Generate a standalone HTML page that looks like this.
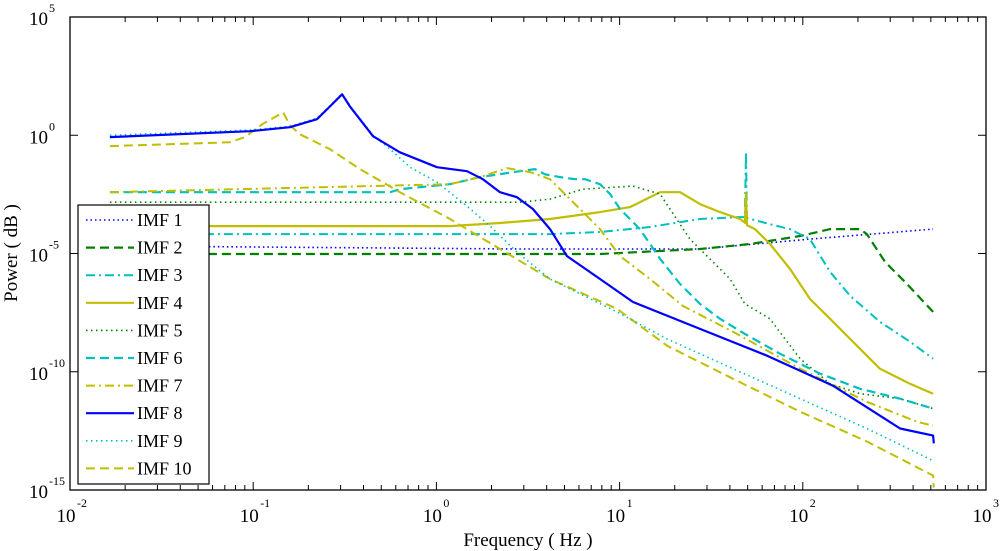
<!DOCTYPE html>
<html><head><meta charset="utf-8"><style>
html,body{margin:0;padding:0;background:#fff;}
svg{display:block;font-family:"Liberation Serif",serif;}
</style></head><body>
<svg id="chart" width="1000" height="551" viewBox="0 0 1000 551" xmlns="http://www.w3.org/2000/svg">
<rect x="0" y="0" width="1000" height="551" fill="#fff"/>
<g id="series"></g>
<g id="axes"></g>
<g id="legend"></g>
</svg>
<script>
// data: log10(frequency Hz) and log10(power)
const imf1LogF=[-1.782,0.456,0.893,1.439,2.039,2.711];
const imf1LogP=[-4.68,-4.81,-4.81,-4.81,-4.39,-3.97];
const imf2LogF=[-1.782,0.893,1.439,1.712,1.985,2.149,2.312,2.350,2.449,2.558,2.711];
const imf2LogP=[-5.02,-5.02,-4.81,-4.60,-4.26,-3.97,-3.97,-4.18,-5.36,-6.20,-7.47];
const imf3LogF=[-1.782,0.620,0.893,1.166,1.439,1.657,1.684,1.690,1.695,1.821,1.930,2.039,2.149,2.258,2.421,2.585,2.711];
const imf3LogP=[-4.18,-4.18,-4.09,-3.88,-3.54,-3.46,-3.46,-0.70,-3.50,-3.76,-3.97,-4.39,-5.78,-6.79,-7.89,-8.73,-9.45];
const imf4LogF=[-1.782,0.074,0.347,0.620,0.893,1.057,1.221,1.330,1.439,1.548,1.657,1.684,1.690,1.695,1.739,1.821,1.930,2.039,2.149,2.258,2.421,2.585,2.711];
const imf4LogP=[-3.84,-3.84,-3.71,-3.54,-3.25,-3.04,-2.41,-2.41,-2.91,-3.25,-3.54,-3.70,-2.45,-3.80,-3.97,-4.60,-5.65,-6.92,-7.76,-8.61,-9.87,-10.51,-10.93];
const imf5LogF=[-1.782,0.456,0.620,0.800,1.073,1.221,1.275,1.384,1.493,1.603,1.684,1.821,1.903,1.985,2.149,2.312,2.531,2.711];
const imf5LogP=[-2.83,-2.83,-2.70,-2.28,-2.15,-2.49,-3.12,-4.39,-5.23,-6.08,-7.13,-7.76,-8.61,-9.45,-10.51,-10.93,-11.14,-11.56];
const imf6LogF=[-1.782,-0.253,-0.199,0.074,0.238,0.456,0.538,0.593,0.675,0.757,0.811,0.893,0.948,1.002,1.111,1.221,1.330,1.439,1.548,1.684,1.876,2.094,2.312,2.531,2.711];
const imf6LogP=[-2.41,-2.41,-2.28,-2.07,-1.77,-1.52,-1.43,-1.65,-1.77,-1.86,-1.86,-2.07,-2.49,-3.12,-3.97,-5.23,-6.29,-7.13,-7.76,-8.40,-9.24,-10.08,-10.72,-11.14,-11.56];
const imf7LogF=[-1.782,0.074,0.238,0.385,0.511,0.620,0.767,0.893,1.002,1.166,1.346,1.619,1.985,2.350,2.623,2.711];
const imf7LogP=[-2.41,-2.07,-1.77,-1.39,-1.56,-1.86,-2.99,-3.97,-5.11,-6.08,-7.22,-8.31,-9.87,-11.27,-12.11,-12.28];
const imf8LogF=[-1.782,-1.017,-0.799,-0.652,-0.581,-0.515,-0.472,-0.346,-0.199,0.003,0.167,0.254,0.347,0.440,0.527,0.620,0.713,0.893,1.073,1.439,1.805,2.165,2.531,2.711,2.715];
const imf8LogP=[-0.08,0.17,0.34,0.68,1.22,1.73,1.22,-0.04,-0.72,-1.35,-1.52,-1.86,-2.41,-2.62,-3.12,-3.97,-5.11,-6.08,-7.05,-8.19,-9.32,-10.59,-12.40,-12.70,-13.03];
const imf9LogF=[-1.782,-1.017,-0.799,-0.652,-0.581,-0.515,-0.472,-0.346,-0.253,-0.144,0.003,0.167,0.293,0.440,0.620,0.986,1.259,1.619,1.985,2.350,2.711];
const imf9LogP=[0.00,0.22,0.38,0.72,1.25,1.76,1.25,0.00,-0.59,-1.35,-1.98,-3.00,-3.84,-4.94,-6.08,-7.47,-8.61,-9.87,-11.14,-12.40,-13.76];
const imf10LogF=[-1.782,-1.127,-1.045,-0.952,-0.854,-0.837,-0.799,-0.745,-0.581,-0.417,-0.199,0.074,0.347,0.620,0.986,1.259,1.619,1.985,2.350,2.711,2.715];
const imf10LogP=[-0.46,-0.30,-0.08,0.46,0.89,0.97,0.42,0.04,-0.59,-1.43,-2.41,-3.54,-4.81,-6.08,-7.34,-8.90,-10.30,-11.69,-12.95,-14.39,-14.90];
const legendLabels=["IMF 1","IMF 2","IMF 3","IMF 4","IMF 5","IMF 6","IMF 7","IMF 8","IMF 9","IMF 10"];
const xTickExps=[-2,-1,0,1,2,3];
const yTickExps=[-15,-10,-5,0,5];

const NS="http://www.w3.org/2000/svg";
const L=70,R=986,T=17,B=490;
const X0=-2,X1=3,Y0=-15,Y1=5;
function sx(lf){return L+(lf-X0)/(X1-X0)*(R-L);}
function sy(lp){return B-(lp-Y0)/(Y1-Y0)*(B-T);}
function mk(tag,attrs,parent){const e=document.createElementNS(NS,tag);for(const k in attrs)e.setAttribute(k,attrs[k]);parent.appendChild(e);return e;}

const BLUE="#0000ff",GREEN="#008000",CYAN="#00bfbf",YEL="#bfbf00";
const styles=[
 {c:BLUE,w:1.6,d:"1.5,3"},
 {c:GREEN,w:2.2,d:"9,5"},
 {c:CYAN,w:2,d:"9,4,2,4"},
 {c:YEL,w:2.2,d:""},
 {c:GREEN,w:1.6,d:"1.5,3.5"},
 {c:CYAN,w:2.2,d:"9,5"},
 {c:YEL,w:2,d:"9,4,2,4"},
 {c:BLUE,w:2.2,d:""},
 {c:CYAN,w:1.6,d:"1.5,3.5"},
 {c:YEL,w:2,d:"9,5"}
];
const allF=[imf1LogF,imf2LogF,imf3LogF,imf4LogF,imf5LogF,imf6LogF,imf7LogF,imf8LogF,imf9LogF,imf10LogF];
const allP=[imf1LogP,imf2LogP,imf3LogP,imf4LogP,imf5LogP,imf6LogP,imf7LogP,imf8LogP,imf9LogP,imf10LogP];
const sg=document.getElementById("series");
const drawOrder=[0,1,2,3,4,5,6,9,8,7];
drawOrder.forEach(i=>{
  const f=allF[i],p=allP[i];
  let d="";
  for(let k=0;k<f.length;k++)d+=(k?"L":"M")+sx(f[k]).toFixed(1)+","+sy(p[k]).toFixed(1);
  const a={d:d,fill:"none",stroke:styles[i].c,"stroke-width":styles[i].w,"stroke-linejoin":"round"};
  if(styles[i].d)a["stroke-dasharray"]=styles[i].d;
  const el=mk("path",a,sg);
  
  
});

// axes
const ag=document.getElementById("axes");
const frame=mk("rect",{x:L,y:T,width:R-L,height:B-T,fill:"none",stroke:"#000","stroke-width":1.3},ag);


for(let e=X0;e<X1;e++){
  for(let m=1;m<10;m++){
    const x=sx(e+Math.log10(m));const len=m===1?8:5;
    mk("line",{x1:x,y1:B,x2:x,y2:B-len,stroke:"#000","stroke-width":1},ag);
    mk("line",{x1:x,y1:T,x2:x,y2:T+len,stroke:"#000","stroke-width":1},ag);
  }
}
xTickExps.forEach(e=>{
  const x=sx(e);
  const t=mk("text",{x:x-4,y:522,"text-anchor":"middle","font-size":19},ag);
  t.textContent="10";
  
  
  const s=mk("text",{x:x+7,y:507,"font-size":12},ag);s.textContent=String(e);
});
yTickExps.forEach(e=>{
  const y=sy(e);
  mk("line",{x1:L,y1:y,x2:L+8,y2:y,stroke:"#000","stroke-width":1},ag);
  mk("line",{x1:R,y1:y,x2:R-8,y2:y,stroke:"#000","stroke-width":1},ag);
  const t=mk("text",{x:48,y:y+8,"text-anchor":"end","font-size":19},ag);
  t.textContent="10";
  
  
  const s=mk("text",{x:49,y:y-5,"font-size":12},ag);s.textContent=String(e);
});
const xt=mk("text",{x:528,y:546,"text-anchor":"middle","font-size":19},ag);
xt.textContent="Frequency ( Hz )";


const yt=mk("text",{x:0,y:0,"text-anchor":"middle","font-size":19,transform:"translate(17,253) rotate(-90)"},ag);
yt.textContent="Power ( dB )";



// legend
const lg=document.getElementById("legend");
const box=mk("rect",{x:78,y:205,width:131,height:279,fill:"#fff",stroke:"#000","stroke-width":1.2},lg);


legendLabels.forEach((lab,i)=>{
  const y=220+i*27.6;
  const g=mk("g",{},lg);
  
  
  const a={x1:86,y1:y,x2:134,y2:y,stroke:styles[i].c,"stroke-width":styles[i].w};
  if(styles[i].d)a["stroke-dasharray"]=styles[i].d;
  mk("line",a,g);
  const t=mk("text",{x:137,y:y+6,"font-size":18},g);t.textContent=lab;
});
</script>
</body></html>
